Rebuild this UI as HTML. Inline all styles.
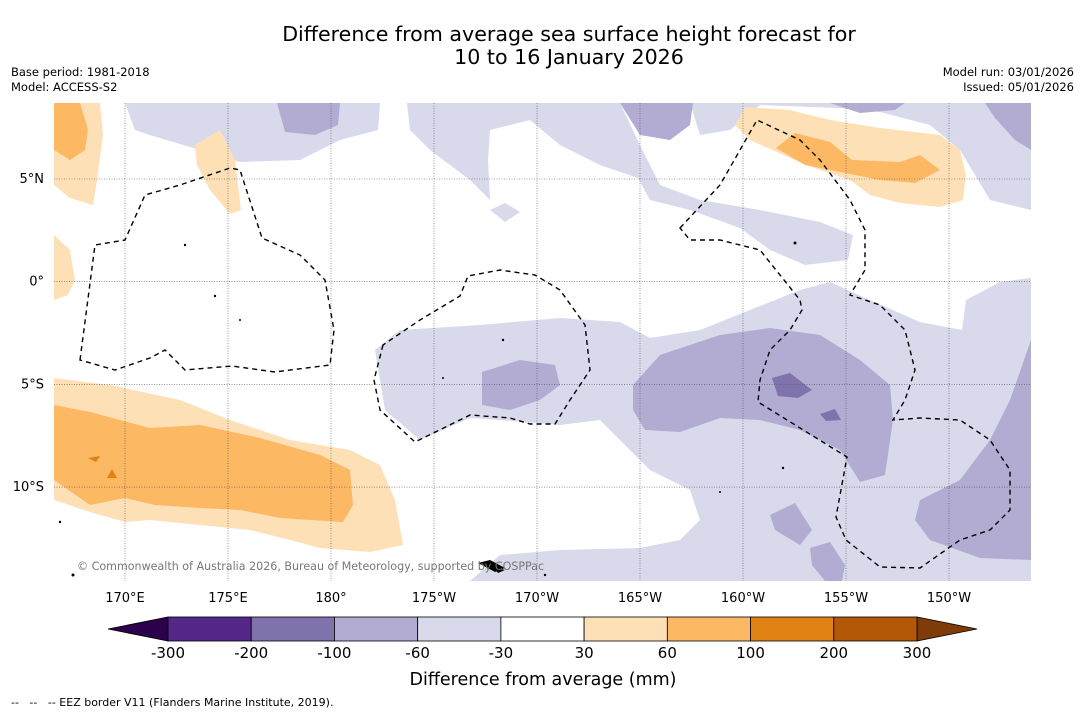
<!DOCTYPE html>
<html><head><meta charset="utf-8"><style>
body{margin:0;background:#fff;font-family:"Liberation Sans","DejaVu Sans",sans-serif;}
</style></head><body>
<svg width="1085" height="713" xmlns="http://www.w3.org/2000/svg" style="font-family:'DejaVu Sans','Liberation Sans',sans-serif">
<rect width="1085" height="713" fill="#fff"/>
<text x="569" y="41" font-size="20.6" text-anchor="middle">Difference from average sea surface height forecast for</text>
<text x="569" y="64" font-size="20.6" text-anchor="middle">10 to 16 January 2026</text>
<text x="11" y="76" font-size="11.5">Base period: 1981-2018</text>
<text x="11" y="91" font-size="11.5">Model: ACCESS-S2</text>
<text x="1074" y="76" font-size="11.5" text-anchor="end">Model run: 03/01/2026</text>
<text x="1074" y="91" font-size="11.5" text-anchor="end">Issued: 05/01/2026</text>
<g>
<clipPath id="mc"><rect x="54" y="103" width="977" height="478"/></clipPath>
<g clip-path="url(#mc)">
<g fill="#d8daeb">
<path d="M125,103 L380,103 L378,130 L340,140 L300,160 L240,162 L200,150 L150,135 L135,130 Z"/>
<path d="M407,103 L620,103 L640,145 L660,185 L700,200 L760,210 L820,222 L853,235 L848,260 L805,265 L770,250 L740,228 L690,210 L650,200 L638,178 L600,165 L560,145 L530,120 L490,130 L488,160 L490,200 L470,180 L430,150 L410,130 Z"/>
<path d="M690,103 L1031,103 L1031,210 L990,200 L960,150 L930,125 L880,112 L840,108 L760,105 L730,130 L700,135 Z"/>
<path d="M490,210 L505,203 L520,212 L505,222 Z"/>
<path d="M375,350 L400,330 L480,325 L560,318 L620,322 L650,338 L700,330 L750,310 L800,290 L830,282 L870,300 L920,322 L962,330 L966,300 L1000,282 L1031,278 L1031,581 L470,581 L500,555 L560,550 L640,548 L680,540 L700,520 L690,490 L650,470 L620,440 L600,420 L560,425 L500,420 L470,418 L420,440 L385,410 Z"/>
</g>
<g fill="#b2abd2">
<path d="M277,103 L340,103 L338,125 L315,135 L285,132 Z"/>
<path d="M620,103 L693,103 L690,125 L670,140 L640,135 Z"/>
<path d="M830,103 L905,103 L895,110 L860,113 Z"/>
<path d="M985,103 L1031,103 L1031,150 L1015,140 L995,118 Z"/>
<path d="M482,372 L520,360 L555,365 L560,385 L540,400 L510,410 L482,405 Z"/>
<path d="M633,385 L660,355 L720,335 L770,328 L820,335 L860,360 L890,385 L893,420 L885,475 L860,482 L840,450 L800,430 L760,420 L720,418 L680,432 L645,430 L633,410 Z"/>
<path d="M920,500 L960,480 L990,440 L1010,400 L1031,340 L1031,560 L980,558 L930,540 L915,520 Z"/>
<path d="M770,515 L795,503 L812,530 L800,545 L775,530 Z"/>
<path d="M810,548 L830,542 L845,565 L842,581 L825,581 L812,565 Z"/>
</g>
<g fill="#8073ac">
<path d="M772,378 L790,373 L812,390 L798,398 L778,396 Z"/>
<path d="M820,414 L835,409 L841,420 L826,421 Z"/>
</g>
<g fill="#fee0b6">
<path d="M54,103 L100,103 L103,135 L97,180 L93,205 L70,198 L54,185 Z"/>
<path d="M195,145 L220,130 L235,160 L241,210 L230,214 L210,190 L197,165 Z"/>
<path d="M54,235 L70,250 L75,280 L68,295 L54,300 Z"/>
<path d="M54,378 L110,385 L180,400 L230,420 L290,440 L350,450 L380,465 L395,500 L403,545 L370,552 L320,548 L290,540 L250,530 L200,525 L150,520 L125,522 L90,512 L54,500 Z"/>
<path d="M735,125 L745,107 L790,110 L830,120 L880,128 L940,135 L960,150 L966,175 L963,200 L940,207 L900,203 L870,195 L850,180 L820,170 L790,158 L750,140 Z"/>
</g>
<g fill="#fdb863">
<path d="M54,103 L80,103 L88,130 L85,150 L70,160 L54,150 Z"/>
<path d="M54,405 L90,412 L150,428 L200,425 L260,438 L320,455 L350,470 L353,505 L343,522 L310,520 L280,518 L240,510 L200,508 L155,505 L125,498 L90,505 L54,480 Z"/>
<path d="M776,148 L795,133 L830,142 L852,160 L900,162 L920,155 L940,170 L915,183 L880,180 L840,172 L805,165 Z"/>
</g>
<g fill="#e08214">
<path d="M88,458 L100,456 L96,462 Z"/>
<path d="M107,478 L112,469 L117,478 Z"/>
</g>
<g stroke="#555" stroke-width="0.6" stroke-dasharray="1,1.5" id="grid"></g>
<g fill="none" stroke="#000" stroke-width="1.4" stroke-dasharray="5,4">
<path d="M80,360 L95,245 L125,240 L145,195 L180,185 L230,168 L240,170 L262,238 L300,255 L325,280 L334,330 L330,365 L275,372 L232,366 L185,370 L165,350 L150,358 L115,370 Z"/>
<path d="M383,345 L374,380 L380,410 L415,442 L470,415 L510,418 L530,424 L555,424 L570,400 L590,370 L585,325 L560,290 L535,275 L500,270 L468,276 L460,296 L420,320 Z"/>
<path d="M680,228 L720,185 L740,150 L757,120 L800,140 L820,160 L850,200 L865,230 L865,270 L850,295 L880,305 L905,330 L915,370 L905,400 L893,420 L920,418 L960,420 L990,440 L1010,470 L1010,510 L990,530 L960,540 L920,568 L880,567 L846,540 L836,517 L847,457 L758,402 L760,380 L770,350 L790,330 L802,310 L800,300 L760,250 L720,240 L690,240 Z"/>
</g>
<g fill="#000">
<path d="M478,563 L490,560 L505,568 L495,572 Z"/><path d="M493,567 L505,570 L498,573 Z"/>
<circle cx="185" cy="245" r="1.2"/><circle cx="215" cy="296" r="1.2"/><circle cx="240" cy="320" r="1"/><circle cx="795" cy="243" r="1.5"/><circle cx="503" cy="340" r="1.2"/><circle cx="443" cy="378" r="1"/><circle cx="720" cy="492" r="1"/><circle cx="783" cy="468" r="1.2"/><circle cx="60" cy="522" r="1.2"/><circle cx="73" cy="575" r="1.5"/><circle cx="545" cy="575" r="1.2"/>
</g>
</g>
</g>
<text x="77" y="570" font-size="11.1" fill="#777">© Commonwealth of Australia 2026, Bureau of Meteorology, supported by COSPPac</text>
<g font-size="13" id="axlab"></g>
<g id="cbar"></g>
<text x="543" y="685" font-size="17.5" text-anchor="middle">Difference from average (mm)</text>
<text x="11" y="706" font-size="11" xml:space="preserve" style="white-space:pre">--   --   -- EEZ border V11 (Flanders Marine Institute, 2019).</text>
</svg>
<script>
const lonLabels=["170°E","175°E","180°","175°W","170°W","165°W","160°W","155°W","150°W"];
const latLabels=["5°N","0°","5°S","10°S"];
const levels=[-300,-200,-100,-60,-30,30,60,100,200,300];
const colors=["#542788","#8073ac","#b2abd2","#d8daeb","#ffffff","#fee0b6","#fdb863","#e08214","#b35806"];
const NS="http://www.w3.org/2000/svg";
const lonX=i=>125+i*103, latY=i=>179+i*102.7;
const grid=document.getElementById('grid'), ax=document.getElementById('axlab');
function mk(tag,attrs,parent){const e=document.createElementNS(NS,tag);for(const k in attrs)e.setAttribute(k,attrs[k]);parent.appendChild(e);return e;}
lonLabels.forEach((l,i)=>{
  const ln=mk('line',{x1:lonX(i),x2:lonX(i),y1:103,y2:581},grid);
  
  
  const t=mk('text',{x:lonX(i),y:602,'text-anchor':'middle'},ax);t.textContent=l;
  
  
});
latLabels.forEach((l,i)=>{
  const ln=mk('line',{x1:54,x2:1031,y1:latY(i),y2:latY(i)},grid);
  
  
  const t=mk('text',{x:44,y:latY(i)+4,'text-anchor':'end'},ax);t.textContent=l;
  
  
});
const cb=document.getElementById('cbar');
const x0=168,x1=917,y0=617,h=24,w=(x1-x0)/colors.length;
const lo=mk('polygon',{points:`108,${y0+h/2} ${x0},${y0} ${x0},${y0+h}`,fill:'#2d004b',stroke:'#000','stroke-width':0.8},cb);


const hi=mk('polygon',{points:`977,${y0+h/2} ${x1},${y0} ${x1},${y0+h}`,fill:'#7f3b08',stroke:'#000','stroke-width':0.8},cb);


colors.forEach((c,i)=>{
  const r=mk('rect',{x:x0+i*w,y:y0,width:w,height:h,fill:c,stroke:'#000','stroke-width':0.8},cb);
  
  
});
levels.forEach((v,i)=>{
  const t=mk('text',{x:x0+i*w,y:658,'text-anchor':'middle','font-size':15},cb);t.textContent=v;
  
  
});
</script>
</body></html>
